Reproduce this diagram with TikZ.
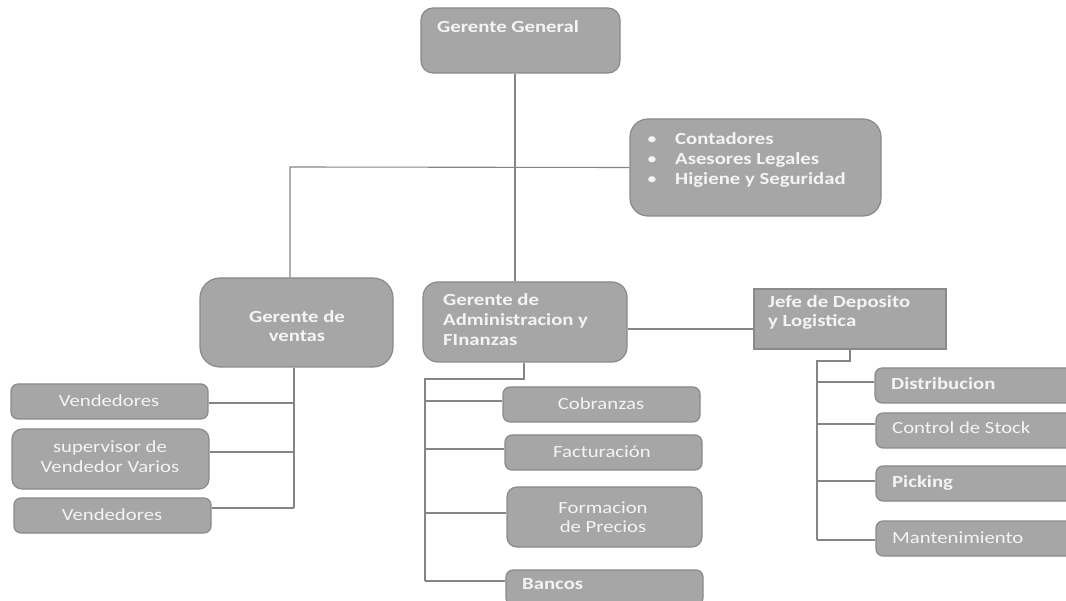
\documentclass[tikz,border=0pt]{standalone}
\usepackage{fontspec}
\setmainfont{Carlito}[FakeStretch=1.22]
\definecolor{boxfill}{HTML}{A6A6A6}
\definecolor{boxedge}{HTML}{8A8A8A}
\definecolor{txtcol}{HTML}{F4F4F4}
\definecolor{linecol}{HTML}{858585}
\tikzset{
  orgbox/.style={draw=boxedge, fill=boxfill, line width=1.2pt, inner sep=0pt, rounded corners=#1},
  orgbox/.default=8pt,
  sqbox/.style={draw=boxedge, fill=boxfill, line width=1.2pt, inner sep=0pt},
  txt/.style={text=txtcol, font=\fontsize{17}{20}\selectfont, inner sep=0pt, anchor=base},
  txtb/.style={txt, font=\fontsize{17}{20}\selectfont\bfseries},
  conn/.style={draw=linecol, line width=1.1pt}
}
\begin{document}
\begin{tikzpicture}[x=1pt,y=-1pt]
\useasboundingbox (0,0) rectangle (1066,601);
\clip (0,0) rectangle (1066,601);
% boxes
\node[orgbox=12pt, minimum width=199pt, minimum height=65pt] (gg) at (520.5,40.5) {};
\node[orgbox=18pt, minimum width=251pt, minimum height=97pt] (cont) at (755.5,167.5) {};
\node[orgbox=20pt, minimum width=193pt, minimum height=89pt] (vt) at (296.5,322.5) {};
\node[orgbox=15pt, minimum width=204pt, minimum height=80pt] (adm) at (525,322) {};
\node[sqbox, minimum width=192pt, minimum height=60pt] (jefe) at (850,319) {};
\node[orgbox=7pt, minimum width=197pt, minimum height=35pt] (ven1) at (109.5,401.5) {};
\node[orgbox=10pt, minimum width=197pt, minimum height=60pt] (sup) at (110.5,459) {};
\node[orgbox=7pt, minimum width=197pt, minimum height=35pt] (ven2) at (112.5,515.5) {};
\node[orgbox=7pt, minimum width=197pt, minimum height=35pt] (cob) at (601.5,404.5) {};
\node[orgbox=7pt, minimum width=197pt, minimum height=35pt] (fac) at (603.5,452.5) {};
\node[orgbox=10pt, minimum width=195pt, minimum height=60pt] (form) at (604.5,517) {};
\node[orgbox=7pt, minimum width=197pt, minimum height=35pt] (ban) at (604.5,587.5) {};
\node[orgbox=7pt, minimum width=200pt, minimum height=35pt] (dist) at (975,385.5) {};
\node[orgbox=7pt, minimum width=200pt, minimum height=35pt] (ctrl) at (976,430.5) {};
\node[orgbox=7pt, minimum width=200pt, minimum height=35pt] (pick) at (976,483.5) {};
\node[orgbox=7pt, minimum width=200pt, minimum height=35pt] (mant) at (976,538.5) {};
% texts
\node[txtb, anchor=base west] (ggt) at (437,33) {Gerente General};
\node[txt] (cb1) at (652,145) {•};
\node[txt] (cb2) at (652,165) {•};
\node[txt] (cb3) at (652,185) {•};
\node[txtb, anchor=base west] (ct1) at (675,145) {Contadores};
\node[txtb, anchor=base west] (ct2) at (675,165) {Asesores Legales};
\node[txtb, anchor=base west] (ct3) at (675,185) {Higiene y Seguridad};
\node[txtb] (vtt1) at (297,323) {Gerente de};
\node[txtb] (vtt2) at (297,342) {ventas};
\node[txtb, anchor=base west] (at1) at (443,306) {Gerente de};
\node[txtb, anchor=base west] (at2) at (443,326) {Administracion y};
\node[txtb, anchor=base west] (at3) at (443,346) {FInanzas};
\node[txtb, anchor=base west] (jt1) at (768,308) {Jefe de Deposito};
\node[txtb, anchor=base west] (jt2) at (768,327) {y Logistica};
\node[txt] (v1t) at (109,407) {Vendedores};
\node[txt] (st1) at (110,453) {supervisor de};
\node[txt] (st2) at (110,473) {Vendedor Varios};
\node[txt] (v2t) at (112,520) {Vendedores};
\node[txt] (cobt) at (601,410) {Cobranzas};
\node[txt] (fact) at (602,458) {Facturación};
\node[txt] (ft1) at (603,513) {Formacion};
\node[txt] (ft2) at (603,532) {de Precios};
\node[txtb, anchor=base west] (bant) at (522,589) {Bancos};
\node[txtb, anchor=base west] (distt) at (891,390) {Distribucion};
\node[txt, anchor=base west] (ctrlt) at (892,434) {Control de Stock};
\node[txtb, anchor=base west] (pickt) at (892,488) {Picking};
\node[txt, anchor=base west] (mantt) at (892,543) {Mantenimiento};
% junction coordinates
\coordinate (trunk) at (515,167);
\coordinate (vtop) at (290,167);
\coordinate (vb1) at (294,403);
\coordinate (vb2) at (294,452);
\coordinate (vb3) at (294,508);
\coordinate (hy) at (0,329);
\coordinate (ab) at (524,379);
\coordinate (al) at (425,379);
\coordinate (a1) at (425,401);
\coordinate (a2) at (425,449);
\coordinate (a3) at (425,513);
\coordinate (a4) at (425,581);
\coordinate (jb) at (850,361);
\coordinate (jl) at (817,361);
\coordinate (j1) at (817,382);
\coordinate (j2) at (817,424);
\coordinate (j3) at (817,481);
\coordinate (j4) at (817,540);
% connectors
\draw[conn] (gg.south -| trunk) -- (adm.north -| trunk);
\draw[conn] (cont.west) -- (vtop) -- (vtop |- vt.north);
\draw[conn] (vt.south -| vb1) -- (vb3);
\draw[conn] (vb1) -- (vb1 -| ven1.east);
\draw[conn] (vb2) -- (vb2 -| sup.east);
\draw[conn] (vb3) -- (vb3 -| ven2.east);
\draw[conn] (adm.east |- hy) -- (jefe.west |- hy);
\draw[conn] (adm.south -| ab) -- (ab) -- (al) -- (a4);
\draw[conn] (a1) -- (a1 -| cob.west);
\draw[conn] (a2) -- (a2 -| fac.west);
\draw[conn] (a3) -- (a3 -| form.west);
\draw[conn] (a4) -- (a4 -| ban.west);
\draw[conn] (jefe.south -| jb) -- (jb) -- (jl) -- (j4);
\draw[conn] (j1) -- (j1 -| dist.west);
\draw[conn] (j2) -- (j2 -| ctrl.west);
\draw[conn] (j3) -- (j3 -| pick.west);
\draw[conn] (j4) -- (j4 -| mant.west);
\end{tikzpicture}
\end{document}
